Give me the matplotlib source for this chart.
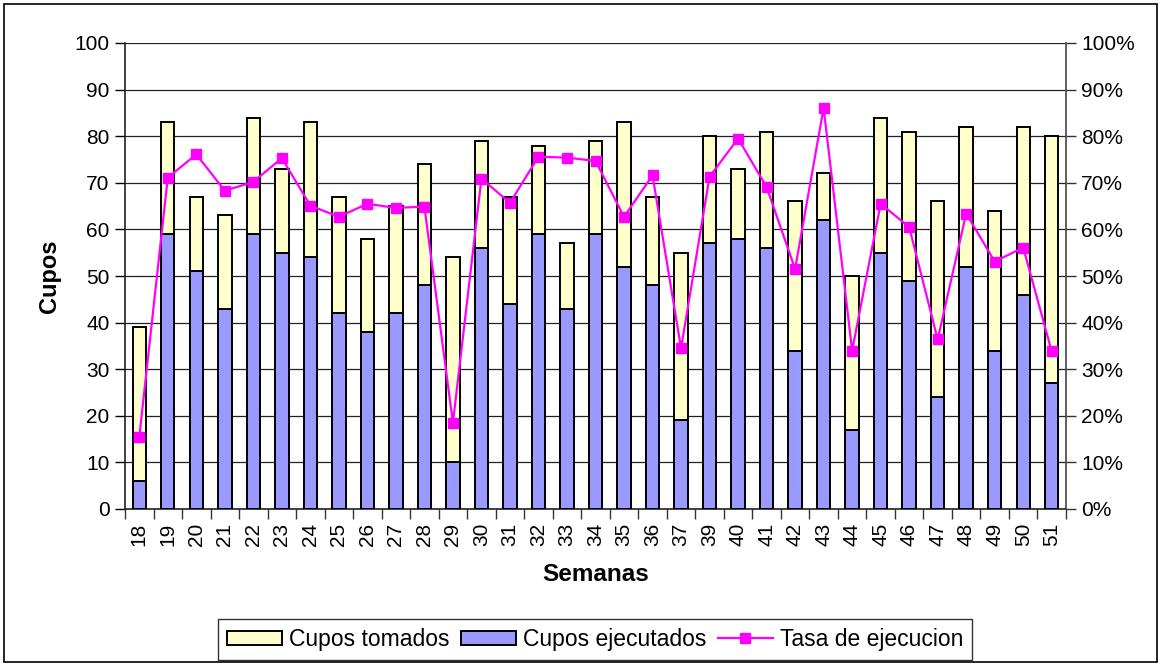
import matplotlib
matplotlib.use("Agg")
import matplotlib.pyplot as plt
from matplotlib.patches import Rectangle, Patch
from matplotlib.lines import Line2D
from matplotlib.ticker import FixedLocator, FuncFormatter
import numpy as np

plt.rcParams['font.family'] = ['Liberation Sans', 'DejaVu Sans']

semanas = ["18", "19", "20", "21", "22", "23", "24", "25", "26", "27", "28", "29", "30",
           "31", "32", "33", "34", "35", "36", "37", "39", "40", "41", "42", "43", "44",
           "45", "46", "47", "48", "49", "50", "51"]
cupos_tomados = [39, 83, 67, 63, 84, 73, 83, 67, 58, 65, 74, 54, 79,
                 67, 78, 57, 79, 83, 67, 55, 80, 73, 81, 66, 72, 50,
                 84, 81, 66, 82, 64, 82, 80]
cupos_ejecutados = [6, 59, 51, 43, 59, 55, 54, 42, 38, 42, 48, 10, 56,
                    44, 59, 43, 59, 52, 48, 19, 57, 58, 56, 34, 62, 17,
                    55, 49, 24, 52, 34, 46, 27]
tasa_ejecucion = [15.4, 71.1, 76.1, 68.3, 70.2, 75.3, 65.1, 62.7, 65.5, 64.6, 64.9, 18.5, 70.9,
                  65.7, 75.6, 75.4, 74.7, 62.7, 71.6, 34.5, 71.3, 79.5, 69.1, 51.5, 86.1, 34.0,
                  65.5, 60.5, 36.4, 63.4, 53.1, 56.1, 33.8]

W, H = 1161, 666
fig = plt.figure(figsize=(W / 100, H / 100), dpi=100)
fig.patch.set_facecolor('white')

# outer chart border
fig.patches.append(Rectangle((4 / W, 4 / H), (1157 - 4) / W, (662 - 4) / H,
                             transform=fig.transFigure, fill=False,
                             edgecolor='black', linewidth=1.2))

left, right, bottom, top = 125 / W, 1066 / W, 1 - 509 / H, 1 - 43 / H
ax = fig.add_axes([left, bottom, right - left, top - bottom])

x = np.arange(len(semanas))
yellow = '#FFFFCC'
blue = '#9999FF'
bw = 0.47
ax.bar(x, cupos_tomados, width=bw, color=yellow, edgecolor='black', linewidth=1.4, zorder=2)
ax.bar(x, cupos_ejecutados, width=bw, color=blue, edgecolor='black', linewidth=1.4, zorder=3)

ax.set_xlim(-0.5, len(semanas) - 0.5)
ax.set_ylim(0, 100)
ax.set_yticks(np.arange(0, 101, 10))
ax.yaxis.grid(True, color='#222222', linewidth=0.9)
ax.set_axisbelow(True)
ax.set_xticks(x)
ax.set_xticklabels(semanas, rotation=90, fontsize=15)
ax.tick_params(axis='x', which='major', length=0, pad=10)
ax.xaxis.set_minor_locator(FixedLocator(np.arange(-0.5, len(semanas), 1)))
ax.tick_params(axis='x', which='minor', length=7, width=1.0, direction='out', color='#333333')
ax.tick_params(axis='y', labelsize=15, length=7, width=1.0, direction='out', pad=4)

for s in ['top', 'right']:
    ax.spines[s].set_visible(False)
ax.spines['left'].set_color('#222222')
ax.spines['bottom'].set_color('#222222')
ax.spines['left'].set_linewidth(1.2)
ax.spines['bottom'].set_linewidth(1.2)

ax.set_ylabel('Cupos', fontsize=17, fontweight='bold', labelpad=10)
ax.set_xlabel('Semanas', fontsize=17.5, fontweight='bold', labelpad=12)

ax2 = ax.twinx()
ax2.set_ylim(0, 100)
ax2.set_yticks(np.arange(0, 101, 10))
ax2.yaxis.set_major_formatter(FuncFormatter(lambda v, p: f"{int(v)}%"))
ax2.tick_params(axis='y', labelsize=15, length=7, width=1.0, direction='out', pad=4, color='#333333')
for s in ['top', 'left', 'bottom']:
    ax2.spines[s].set_visible(False)
ax2.spines['right'].set_color('#444444')
ax2.spines['right'].set_linewidth(1.2)
magenta = '#FF00FF'
ax2.plot(x, tasa_ejecucion, color=magenta, linewidth=1.6, marker='s', markersize=7.5,
         markerfacecolor=magenta, markeredgecolor=magenta, zorder=5)

handles = [Patch(facecolor=yellow, edgecolor='black', linewidth=1.4),
           Patch(facecolor=blue, edgecolor='black', linewidth=1.4),
           Line2D([0], [0], color=magenta, linewidth=1.6, marker='s', markersize=7.5)]
labels = ['Cupos tomados', 'Cupos ejecutados', 'Tasa de ejecucion']
leg = fig.legend(handles, labels, loc='center', bbox_to_anchor=(595 / W, 1 - 639.5 / H),
                 ncol=3, fontsize=16.5, frameon=True, fancybox=False, shadow=False,
                 handlelength=2.4, handleheight=0.6, handletextpad=0.3, columnspacing=0.5,
                 borderpad=0.4, borderaxespad=0)
leg.get_frame().set_edgecolor('black')
leg.get_frame().set_linewidth(1.0)

fig.savefig('out.png', dpi=100)
